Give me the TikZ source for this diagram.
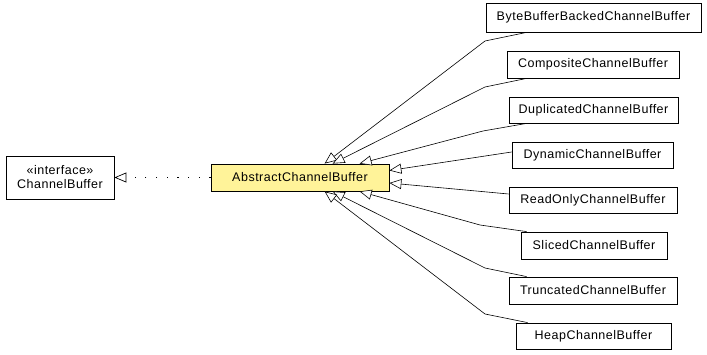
\documentclass[tikz,border=0pt]{standalone}
\usepackage{fontspec}
\setmainfont[LetterSpace=4]{Liberation Sans}
\usetikzlibrary{arrows.meta}
\definecolor{absfill}{RGB}{255,243,153}
\tikzset{
  cls/.style={draw, line width=0.8pt, fill=white, inner sep=0pt, font=\fontsize{12.5}{14}\selectfont, align=center},
  inh/.style={line width=0.6pt, -{Triangle[open, length=12pt, width=10pt, fill=white]}},
  real/.style={line width=0.7pt, dash pattern=on 1.2pt off 9.5pt, -{Triangle[open, length=12pt, width=10pt, fill=white]}}
}
\begin{document}
\begin{tikzpicture}[x=1pt, y=-1pt]
\useasboundingbox (0,0) rectangle (707,355);
\node[cls, minimum width=108pt, minimum height=43pt] (cb) at (60,177.5) {«interface»\\ChannelBuffer};
\node[cls, fill=absfill, minimum width=178pt, minimum height=27pt] (abs) at (300,177.5) {AbstractChannelBuffer};
\node[cls, minimum width=215pt, minimum height=29pt] (byte) at (593.5,17.5) {ByteBufferBackedChannelBuffer};
\node[cls, minimum width=172pt, minimum height=27pt] (comp) at (593,64.5) {CompositeChannelBuffer};
\node[cls, minimum width=169pt, minimum height=26pt] (dup) at (593.5,110) {DuplicatedChannelBuffer};
\node[cls, minimum width=161pt, minimum height=26pt] (dyn) at (592.5,155) {DynamicChannelBuffer};
\node[cls, minimum width=168pt, minimum height=26pt] (ro) at (593,200) {ReadOnlyChannelBuffer};
\node[cls, minimum width=146pt, minimum height=27pt] (sl) at (594,245.5) {SlicedChannelBuffer};
\node[cls, minimum width=168pt, minimum height=27pt] (tr) at (593,290.5) {TruncatedChannelBuffer};
\node[cls, minimum width=155pt, minimum height=26pt] (hp) at (593.5,336) {HeapChannelBuffer};
\coordinate (b1) at (485,41);
\coordinate (b2) at (485,87);
\coordinate (b3) at (483,131);
\coordinate (b6) at (480,225);
\coordinate (b7) at (485,268);
\coordinate (b8) at (485,314);
\draw[real] (abs.west) -- (cb.east);
\draw[inh] ([xshift=41pt]byte.south west) -- (b1) -- ([xshift=114pt]abs.north west);
\draw[inh] ([xshift=20pt]comp.south west) -- (b2) -- ([xshift=122pt]abs.north west);
\draw[inh] ([xshift=18pt]dup.south west) -- (b3) -- ([xshift=149pt]abs.north west);
\draw[inh] ([yshift=3pt]dyn.west) -- ([yshift=7pt]abs.east);
\draw[inh] ([yshift=6pt]ro.west) -- ([yshift=-5.5pt]abs.east);
\draw[inh] ([xshift=6pt]sl.north west) -- (b6) -- ([xshift=149pt]abs.south west);
\draw[inh] ([xshift=18pt]tr.north west) -- (b7) -- ([xshift=122pt]abs.south west);
\draw[inh] ([xshift=12pt]hp.north west) -- (b8) -- ([xshift=114pt]abs.south west);
\end{tikzpicture}
\end{document}
